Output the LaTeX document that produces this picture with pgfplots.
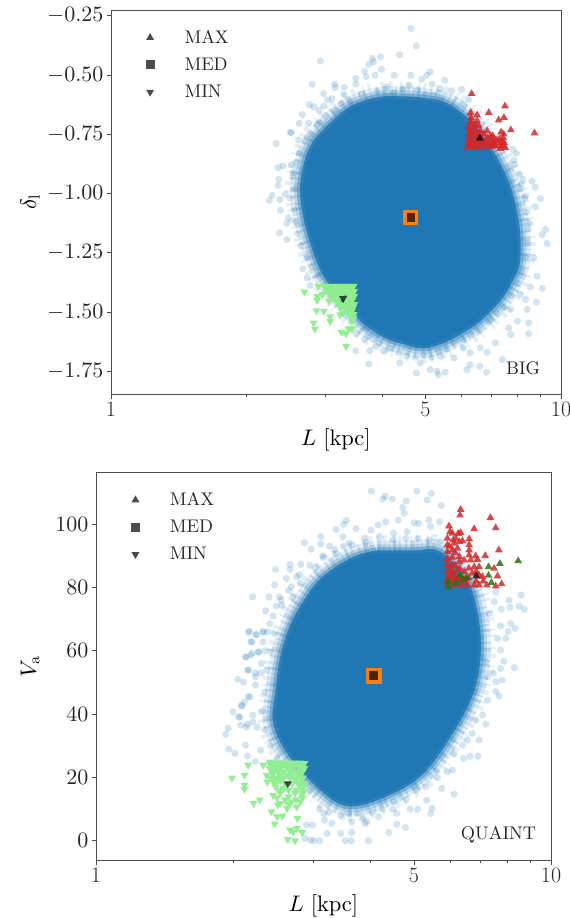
\documentclass[border=0pt]{standalone}
\usepackage{pgfplots}
\usepackage{pgfplotstable}
\pgfplotsset{compat=1.18}
% matplotlib-style scaled cm10 shapes, no optical sizes
\DeclareFontShape{OT1}{cmr}{m}{n}{<->cmr10}{}
\DeclareFontShape{OML}{cmm}{m}{it}{<->cmmi10}{}
\DeclareFontShape{OMS}{cmsy}{m}{n}{<->cmsy10}{}
\definecolor{cloudblue}{HTML}{1F77B4}
\definecolor{maxred}{HTML}{D62728}
\definecolor{minlime}{HTML}{90EE90}
\definecolor{medorange}{HTML}{FF7F0E}
\definecolor{maxgreen}{HTML}{2F7010}
\definecolor{inkgrey}{HTML}{262626}

\pgfplotstableread{
x y
4.39 -.603
4.86 -.607
5.52 -.628
6.18 -.696
6.78 -.793
7.28 -.890
7.70 -1.004
7.98 -1.152
7.98 -1.291
7.70 -1.363
7.32 -1.435
6.61 -1.523
6.05 -1.574
5.52 -1.615
4.94 -1.641
4.50 -1.624
4.10 -1.599
3.67 -1.540
3.40 -1.468
3.15 -1.396
2.96 -1.320
2.80 -1.194
2.71 -1.088
2.67 -.983
2.72 -.880
2.84 -.790
3.05 -.725
3.35 -.655
3.67 -.620
4.02 -.603
4.39 -.603
}\bigedge

\pgfplotstableread{
x y
4.14 90.74
5.00 90.74
5.63 90.74
6.23 84.42
6.60 79.0
6.85 69.0
6.90 59.0
6.70 48.0
6.10 36.0
5.20 22.0
4.35 15.0
3.62 11.8
3.18 16.0
2.71 26.53
2.49 37.05
2.52 47.58
2.59 59.16
2.75 69.69
3.06 80.21
3.37 85.47
3.75 89.16
4.14 90.74
}\quaintedge

\pgfplotsset{
  panel axis/.style={
    scale only axis,
    anchor=south west,
    xmin=1, xmax=10,
    xtick={1,5,10},
    xticklabels={1,5,10},
    minor xtick={2,3,4,6,7,8,9},
    tick align=outside,
    major tick length=4pt,
    minor tick length=2pt,
    axis line style={draw=black!70, line width=.9pt},
    tick style={draw=black!70, line width=.7pt},
    xtick pos=bottom, ytick pos=left,
    tick label style={font=\fontsize{22}{24}\selectfont, text=inkgrey},
    label style={font=\fontsize{22.5}{26}\selectfont, text=black},
    legend cell align=left,
    legend style={draw=none, fill=none, font=\fontsize{18.3}{20}\selectfont, text=inkgrey,
      row sep=9.2pt, anchor=north west},
  },
  haze line/.style={smooth, tension=.6, draw=cloudblue, draw opacity=#1, line join=round, fill=none, mark=none},
  fuzz line/.style={haze line=#1, dash pattern=on 2pt off 4pt on 4pt off 7pt on 1.5pt off 3pt on 3pt off 9pt},
  core fill/.style={smooth, tension=.6, fill=cloudblue, draw=none, mark=none},
  cloud dots/.style={only marks, mark=*, mark size=3.6pt,
    mark options={draw=cloudblue, draw opacity=0, fill=cloudblue, fill opacity=.2}},
  high marks/.style={only marks, mark=triangle*, mark size=4.5pt,
    mark options={draw=#1, draw opacity=0, fill=#1, fill opacity=.85}},
  low marks/.style={only marks, mark=triangle*, mark size=4.6pt,
    mark options={draw=minlime, draw opacity=0, rotate=180, fill=minlime, fill opacity=.97}},
  centre up/.style={only marks, mark=triangle*, mark size=4.6pt,
    mark options={draw=black, draw opacity=0, fill=black, fill opacity=.7}},
  centre box/.style={only marks, mark=square*, mark size=4.4pt,
    mark options={draw=black, draw opacity=0, fill=black, fill opacity=.7}},
  centre down/.style={only marks, mark=triangle*, mark size=4.6pt,
    mark options={draw=black, draw opacity=0, rotate=180, fill=black, fill opacity=.7}},
  orange box/.style={only marks, mark=square*, mark size=#1,
    mark options={draw=medorange, draw opacity=0, fill=medorange}},
}

\begin{document}
\begin{tikzpicture}
\path[use as bounding box] (0,0) rectangle (570pt,918pt);

% top panel
\begin{axis}[
    xmode=log,
    panel axis,
    at={(111pt,523.3pt)},
    width=450pt, height=384.4pt,
    ymin=-1.8487, ymax=-0.2272,
    ytick={-1.75,-1.5,-1.25,-1,-0.75,-0.5,-0.25},
    yticklabel style={/pgf/number format/fixed, /pgf/number format/fixed zerofill, /pgf/number format/precision=2},
    xlabel={$L\ \mathrm{[kpc]}$},
    ylabel={$\delta_{\mathrm{l}}$},
    xlabel style={at={(axis description cs:.5,-.118)}, anchor=center},
    ylabel style={at={(axis description cs:-.18,.5)}, anchor=center},
    legend style={at={(0.07,0.958)}},
]
\addplot[fuzz line=.12, line width=36pt, forget plot] table {\bigedge};
\addplot[fuzz line=.18, line width=26pt, dash phase=5pt, forget plot] table {\bigedge};
\addplot[haze line=.10, line width=26pt, forget plot] table {\bigedge};
\addplot[haze line=.22, line width=18pt, forget plot] table {\bigedge};
\addplot[haze line=.40, line width=12pt, forget plot] table {\bigedge};
\addplot[haze line=.85, line width=6pt, forget plot] table {\bigedge};
\addplot[core fill, forget plot] table {\bigedge};

\addplot[cloud dots, forget plot] coordinates {
(4.64,-.304)(4.77,-.377)(4.38,-.415)(3.97,-.424)(3.81,-.430)(3.83,-.445)(3.74,-.455)(2.92,-.441)
(3.66,-.484)(3.99,-.476)(5.12,-.487)(5.03,-.501)(4.64,-.501)(4.26,-.501)(3.86,-.501)(3.69,-.507)
(3.50,-.514)(5.51,-.522)(4.90,-.518)(2.80,-.539)(3.14,-.539)(3.15,-.553)(3.50,-.539)(5.17,-.539)
(5.39,-.558)(6.01,-.560)(5.72,-.567)(2.97,-.579)(3.30,-.553)(3.29,-.582)(3.10,-.600)(3.03,-.605)
(6.23,-.603)(2.76,-.625)(2.82,-.634)(2.97,-.631)(2.90,-.649)(6.07,-.625)(2.66,-.667)(2.62,-.704)
(2.75,-.704)(2.87,-.708)(2.50,-.743)(2.52,-.743)(2.61,-.774)(2.33,-.790)(2.35,-.891)(2.41,-.884)
(2.52,-.877)(2.54,-.912)(2.36,-.940)(2.35,-.966)(2.28,-1.008)(2.25,-1.029)(2.37,-1.025)(2.44,-1.004)
(2.38,-1.071)(2.48,-1.102)(2.46,-1.126)(9.00,-1.021)(8.77,-1.055)(8.62,-.948)(8.77,-.973)(8.23,-.940)
(7.96,-.831)(7.82,-.814)(7.88,-.877)(7.65,-.891)(8.12,-.980)(8.34,-1.011)(8.48,-1.124)(9.24,-1.152)
(2.37,-1.166)(2.46,-1.194)(2.67,-1.318)(2.73,-1.356)(2.77,-1.388)(9.32,-1.211)(9.08,-1.173)(8.70,-1.271)
(8.85,-1.349)(9.08,-1.401)(8.55,-1.394)(8.82,-1.458)(8.34,-1.447)(8.12,-1.426)(8.48,-1.546)(8.48,-1.591)
(7.74,-1.595)(7.65,-1.567)(8.00,-1.539)(7.15,-1.630)(6.85,-1.670)(6.28,-1.672)(7.40,-1.701)(3.74,-1.719)
(4.38,-1.715)(4.86,-1.715)(4.77,-1.757)(5.12,-1.743)(5.30,-1.750)(5.34,-1.764)(5.53,-1.754)(6.18,-1.743)
(6.28,-1.722)(6.60,-1.729)(6.83,-1.754)(5.78,-1.694)(5.39,-1.687)(3.50,-1.663)(3.76,-1.663)(3.89,-1.647)
(4.03,-1.663)(3.51,-1.591)(3.66,-1.616)(3.69,-1.571)(6.62,-1.651)(6.07,-1.651)(6.97,-1.532)(7.72,-1.489)
(8.41,-1.489)
(3.90,-.570)(4.10,-.550)(4.25,-.575)(4.45,-.560)(4.60,-.545)(4.80,-.565)(5.00,-.580)(5.20,-.585)(5.40,-.600)
(3.60,-.580)(3.40,-.610)(3.25,-.620)(3.15,-.650)(3.00,-.670)(2.90,-.700)(2.78,-.750)(2.70,-.780)(2.62,-.830)
(2.58,-.870)(2.53,-.930)(2.56,-.980)(2.50,-1.020)(2.55,-1.070)(2.57,-1.120)(2.60,-1.170)(2.64,-1.220)
(2.72,-1.270)(2.80,-1.310)(2.88,-1.345)
(3.75,-1.600)(3.95,-1.630)(4.15,-1.655)(4.35,-1.670)(4.55,-1.685)(4.75,-1.690)(4.95,-1.680)(5.15,-1.690)
(5.35,-1.665)(5.55,-1.655)(5.80,-1.630)(6.05,-1.615)(6.30,-1.595)(6.60,-1.575)(6.90,-1.540)(7.20,-1.505)
(7.45,-1.480)(7.75,-1.430)(8.00,-1.380)(8.20,-1.330)(8.35,-1.270)(8.42,-1.210)(8.45,-1.150)(8.38,-1.080)
(8.30,-1.020)(8.15,-.960)(8.10,-.920)(7.85,-.860)(7.75,-.950)
};

\addplot[high marks=maxred, forget plot] coordinates {
(6.33,-.579)(7.51,-.631)(6.91,-.659)(7.47,-.680)(7.27,-.690)(8.73,-.745)(7.74,-.732)(7.36,-.741)
(7.46,-.750)(6.30,-.659)(6.51,-.669)(6.31,-.680)(6.34,-.701)(6.51,-.694)(6.23,-.722)(6.40,-.722)
(6.56,-.715)(6.23,-.750)(6.40,-.743)(6.62,-.736)(6.23,-.779)(6.40,-.772)(6.62,-.765)(6.20,-.803)
(6.37,-.803)(6.56,-.807)(6.71,-.807)(6.79,-.779)(6.85,-.736)(6.97,-.757)(7.09,-.786)(6.97,-.800)
(7.27,-.788)(7.40,-.779)(7.46,-.800)(7.33,-.811)(7.52,-.807)(7.44,-.765)(7.15,-.797)(6.73,-.750)
(6.51,-.788)(6.30,-.750)(6.30,-.787)(6.48,-.757)(6.70,-.779)(6.88,-.790)(7.05,-.757)(7.20,-.775)
(6.28,-.700)(6.45,-.710)(6.30,-.735)(6.48,-.735)(6.27,-.765)(6.48,-.780)(6.58,-.750)(6.55,-.790)
(6.72,-.790)(6.85,-.765)(6.90,-.800)(7.03,-.800)(7.18,-.800)(7.30,-.770)(7.38,-.800)(7.47,-.785)
(7.10,-.770)(7.00,-.775)(6.45,-.800)(6.28,-.800)
};
\addplot[low marks, forget plot] coordinates {
(2.69,-1.415)(2.87,-1.433)(2.87,-1.450)(2.86,-1.494)(2.97,-1.496)(2.82,-1.546)(2.84,-1.571)(3.07,-1.520)
(3.07,-1.539)(3.25,-1.585)(3.33,-1.591)(3.37,-1.570)(3.43,-1.570)(3.33,-1.644)(3.23,-1.511)(3.28,-1.504)
(2.98,-1.391)(3.05,-1.391)(3.13,-1.391)(3.21,-1.391)(3.28,-1.391)(3.37,-1.391)(3.46,-1.391)
(3.02,-1.412)(3.10,-1.412)(3.21,-1.412)(3.31,-1.412)(3.40,-1.412)(3.47,-1.412)
(3.07,-1.433)(3.40,-1.433)(3.47,-1.433)(3.15,-1.440)(3.18,-1.461)(3.25,-1.468)(3.34,-1.454)(3.43,-1.454)
(3.47,-1.468)(3.24,-1.482)(3.37,-1.482)(3.43,-1.496)(3.40,-1.518)(3.46,-1.525)(3.43,-1.539)(2.95,-1.426)
(2.89,-1.391)(3.05,-1.454)(3.24,-1.433)(3.15,-1.420)(3.30,-1.440)(3.30,-1.470)
(3.01,-1.400)(3.09,-1.400)(3.17,-1.400)(3.25,-1.400)(3.33,-1.400)(3.42,-1.400)(3.06,-1.422)(3.15,-1.422)
(3.26,-1.422)(3.36,-1.422)(3.44,-1.422)(3.12,-1.440)(3.20,-1.440)(3.36,-1.444)(3.44,-1.444)(3.22,-1.470)
(3.38,-1.465)(3.45,-1.482)(3.32,-1.490)(3.41,-1.510)(3.46,-1.510)
};
\addplot[orange box=7.5pt, forget plot] coordinates {(4.64,-1.102)};
\addplot[centre up] coordinates {(6.60,-.767)};
\addlegendentry{\hspace{28pt}$\mathrm{MAX}$}
\addplot[centre box] coordinates {(4.64,-1.102)};
\addlegendentry{\hspace{28pt}$\mathrm{MED}$}
\addplot[centre down] coordinates {(3.28,-1.443)};
\addlegendentry{\hspace{28pt}$\mathrm{MIN}$}
\node[font=\fontsize{18.3}{20}\selectfont, text=inkgrey] at (rel axis cs:.9156,.0695) {$\mathrm{BIG}$};
\end{axis}

% bottom panel
\begin{axis}[
    xmode=log,
    panel axis,
    at={(96pt,57.5pt)},
    width=455pt, height=388pt,
    ymin=-6.25, ymax=116.3,
    ytick={0,20,40,60,80,100},
    xlabel={$L\ \mathrm{[kpc]}$},
    ylabel={$V_{\mathrm{a}}$},
    xlabel style={at={(axis description cs:.5,-.117)}, anchor=center},
    ylabel style={at={(axis description cs:-.145,.5)}, anchor=center},
    legend style={at={(0.07,0.958)}},
]
\addplot[fuzz line=.12, line width=36pt, forget plot] table {\quaintedge};
\addplot[fuzz line=.18, line width=26pt, dash phase=5pt, forget plot] table {\quaintedge};
\addplot[haze line=.10, line width=26pt, forget plot] table {\quaintedge};
\addplot[haze line=.22, line width=18pt, forget plot] table {\quaintedge};
\addplot[haze line=.40, line width=12pt, forget plot] table {\quaintedge};
\addplot[haze line=.85, line width=6pt, forget plot] table {\quaintedge};
\addplot[core fill, forget plot] table {\quaintedge};

\addplot[cloud dots, forget plot] coordinates {
(4.03,110.4)(5.07,110.4)(5.46,109.7)(4.32,108.8)(4.27,107.9)(4.48,107.9)(4.81,107.3)(5.34,107.6)
(5.74,105.9)(4.72,105.3)(4.76,103.4)(4.62,101.3)(5.39,101.3)(5.69,100.7)(4.33,100.7)(4.17,99.7)
(3.55,101.1)(3.50,99.9)(3.37,98.3)(3.73,98.6)(4.02,98.1)(5.00,100.4)(5.12,100.2)(3.12,96.0)
(3.49,96.0)(2.87,94.1)(3.12,93.7)(2.97,92.1)(3.26,93.0)(3.50,93.0)(3.66,93.4)(3.92,94.2)
(4.51,97.1)(4.83,97.6)(5.44,99.2)(2.67,87.3)(2.82,87.3)(2.48,85.7)(2.67,85.7)(3.04,86.3)
(3.16,89.5)(3.37,90.7)(2.62,82.8)(2.76,83.4)(2.47,80.8)(2.69,80.2)(2.81,81.3)(2.21,77.0)
(2.40,77.0)(2.53,77.0)(2.71,77.0)(2.36,72.6)(2.49,74.1)(2.56,74.4)(2.41,68.6)(2.17,66.1)
(2.25,65.2)(2.33,66.0)(2.46,65.5)(2.20,62.8)(2.33,62.8)(2.13,58.1)(2.20,59.2)(2.28,59.6)
(2.42,59.7)(2.16,53.9)(2.31,56.0)(2.05,51.0)(2.11,50.1)(2.24,51.8)(2.37,53.9)(7.56,78.6)
(8.09,76.0)(8.60,77.6)(8.51,74.1)(8.73,73.1)(8.13,73.7)(7.78,73.1)(7.50,75.5)(7.32,71.8)
(8.16,68.6)(7.75,67.8)(8.34,67.1)(8.05,66.1)(7.96,63.9)(7.63,63.9)(7.75,60.2)(7.88,56.7)
(7.75,54.4)(8.30,54.7)(7.47,52.9)(7.81,50.7)(7.56,50.2)(7.19,56.6)(7.25,51.8)(7.01,64.4)
(7.69,45.7)(7.56,47.1)(7.25,44.4)(7.07,39.7)(7.19,36.8)(6.83,38.1)(6.71,33.9)(6.95,31.8)
(6.39,30.2)(6.91,26.7)(6.64,26.7)(6.42,26.0)(6.07,22.3)(5.92,21.8)(5.63,20.0)(6.12,14.7)
(5.75,16.5)(5.33,12.8)(5.48,10.2)(5.44,8.6)(5.09,9.9)(4.90,10.0)(4.58,8.6)(4.79,4.2)
(4.58,5.2)(4.40,2.6)(4.18,7.6)(3.97,0.0)(3.90,5.5)(3.65,2.6)(3.64,0.0)(3.53,0.0)
(3.45,2.3)(3.22,2.3)(3.10,0.0)(3.01,0.0)(2.96,0.2)(2.88,0.7)(2.90,5.0)(2.99,5.0)
(3.18,6.5)(2.00,40.7)(2.09,42.8)(2.16,45.5)(2.06,39.0)(2.15,36.8)(2.08,36.5)(1.95,35.5)
(1.93,33.6)(1.96,28.9)(2.02,27.6)(2.13,30.2)(2.15,26.8)(2.24,25.0)(2.30,28.6)(3.75,8.6)
(3.59,8.6)(3.94,6.0)(4.22,11.8)(4.51,12.3)(5.00,17.1)(5.53,23.4)(6.12,27.6)(6.55,31.8)
(3.17,8.6)(3.30,5.5)(2.17,65.9)(2.25,65.0)(2.33,65.9)(2.19,62.8)(2.14,58.0)(2.19,58.6)
(2.27,59.6)(2.16,53.9)(2.24,53.0)(2.24,49.2)(2.12,43.8)(2.18,45.4)(2.09,42.5)(2.07,39.1)
(2.21,39.7)(2.21,37.5)(2.14,35.9)(2.26,35.9)
(3.90,95.5)(4.20,96.0)(4.50,95.0)(4.80,95.5)(5.10,95.5)(5.40,95.0)(5.70,94.5)(3.60,94.0)(3.35,92.0)
(3.15,90.0)(2.95,87.0)(2.80,84.0)(2.65,79.0)(2.55,76.0)(2.45,71.0)(2.38,66.0)(2.35,60.0)(2.30,53.0)
(2.35,47.0)(2.32,41.0)(2.35,35.0)(2.42,30.0)(2.50,26.0)
(2.95,16.0)(3.10,10.0)(3.25,9.0)(3.45,8.0)(3.65,6.0)(3.85,7.0)(4.05,9.0)(4.25,10.0)(4.50,10.0)
(4.80,13.0)(5.05,16.0)(5.30,17.0)(5.60,22.0)(5.80,27.0)(6.10,32.0)(6.30,37.0)(6.60,42.0)(6.80,47.0)
(6.90,53.0)(7.05,58.0)(7.00,62.0)(6.90,67.0)(6.80,72.0)(6.80,78.0)
};

\addplot[high marks=maxred, forget plot] coordinates {
(6.33,104.6)(6.31,102.8)(7.36,102.0)(7.56,98.8)(6.78,98.5)(7.68,91.8)(7.17,90.0)(5.97,99.4)
(6.33,97.3)(6.61,95.3)(6.39,94.7)(6.00,97.6)(6.07,97.1)(5.92,95.5)(6.18,95.5)(5.92,93.4)
(6.12,93.9)(6.29,94.4)(5.92,91.3)(6.07,91.8)(6.23,92.3)(6.61,93.4)(6.61,91.8)(5.92,89.1)
(6.07,89.5)(6.29,89.7)(6.61,90.2)(6.83,89.9)(5.92,87.1)(6.07,87.1)(6.29,88.1)(6.44,88.6)
(6.66,88.6)(6.89,88.8)(6.95,86.5)(5.92,85.0)(6.07,85.0)(6.23,85.5)(6.78,86.5)(5.92,82.8)
(6.07,82.8)(6.23,82.8)(6.71,84.4)(6.95,83.9)(5.92,80.7)(6.12,80.7)(6.33,80.7)(6.55,80.7)
(6.78,80.7)(6.95,80.7)(7.23,80.7)(7.56,80.4)(7.79,81.1)(7.63,83.6)(7.50,86.0)(6.50,82.8)
(7.07,83.4)(5.98,93.0)(6.15,91.0)(6.00,86.0)(6.15,87.0)(6.00,84.0)(6.15,84.0)(6.00,82.0)(6.30,86.0)
(6.30,83.0)(6.45,82.0)(6.60,83.0)(6.85,82.0)(6.45,85.0)(6.60,86.0)(6.85,85.0)(7.10,82.0)(6.10,95.0)
(6.25,97.0)
};
\addplot[high marks=maxgreen, forget plot] coordinates {
(8.47,88.4)(7.72,87.5)(7.29,86.5)(6.33,83.9)(6.53,83.0)(6.39,82.3)(7.29,83.8)(7.40,81.5)
(6.18,81.5)(5.95,81.8)(5.95,80.2)
};
\addplot[low marks, forget plot] coordinates {
(2.16,23.9)(1.99,19.8)(2.12,20.7)(2.12,17.6)(2.12,16.3)(2.22,11.8)(2.29,12.9)(2.33,23.9)
(2.43,9.2)(2.50,7.6)(2.47,5.3)(2.57,7.8)(2.77,7.1)(2.67,3.4)(2.76,3.9)(2.84,2.6)
(2.71,2.8)(2.64,0.4)(2.74,0.0)(2.54,11.8)(2.63,10.2)(2.76,10.7)
(2.41,24.6)(2.47,24.6)(2.54,24.6)(2.60,24.6)(2.67,24.6)(2.74,24.6)(2.81,24.6)(2.87,24.4)
(2.41,22.8)(2.47,22.8)(2.54,22.8)(2.63,22.8)(2.71,22.8)(2.81,22.8)(2.87,22.8)
(2.37,20.7)(2.45,20.7)(2.54,20.7)(2.63,20.7)(2.71,20.7)(2.81,20.7)
(2.38,18.6)(2.45,19.0)(2.54,19.0)(2.74,19.2)(2.83,19.2)
(2.48,17.0)(2.58,16.5)(2.81,17.0)(2.85,17.0)
(2.45,14.4)(2.54,15.0)(2.65,13.9)(2.74,15.0)(2.83,15.0)
(2.51,11.3)(2.69,12.3)(2.81,12.3)(2.41,24.9)
(2.44,23.8)(2.51,23.8)(2.57,23.8)(2.64,23.8)(2.71,23.8)(2.78,23.8)(2.84,23.8)(2.44,21.8)(2.51,21.8)
(2.58,21.8)(2.67,21.8)(2.76,21.8)(2.84,21.8)(2.42,19.8)(2.50,19.8)(2.58,19.8)(2.67,19.8)(2.76,19.8)
(2.85,19.8)(2.48,18.0)(2.60,18.0)(2.70,18.0)(2.78,18.0)(2.85,18.0)(2.53,16.0)(2.65,16.0)(2.75,16.0)
(2.86,15.5)(2.50,13.5)(2.60,13.0)(2.75,13.0)(2.84,13.5)(2.87,18.0)(2.65,11.5)
};
\addplot[orange box=8pt, forget plot] coordinates {(4.08,52.1)};
\addplot[centre up] coordinates {(6.85,83.6)};
\addlegendentry{\hspace{28pt}$\mathrm{MAX}$}
\addplot[centre box] coordinates {(4.08,52.1)};
\addlegendentry{\hspace{28pt}$\mathrm{MED}$}
\addplot[centre down] coordinates {(2.64,18.0)};
\addlegendentry{\hspace{28pt}$\mathrm{MIN}$}
\node[font=\fontsize{18.3}{20}\selectfont, text=inkgrey] at (rel axis cs:.8846,.0657) {$\mathrm{QUAINT}$};
\end{axis}
\end{tikzpicture}
\end{document}
